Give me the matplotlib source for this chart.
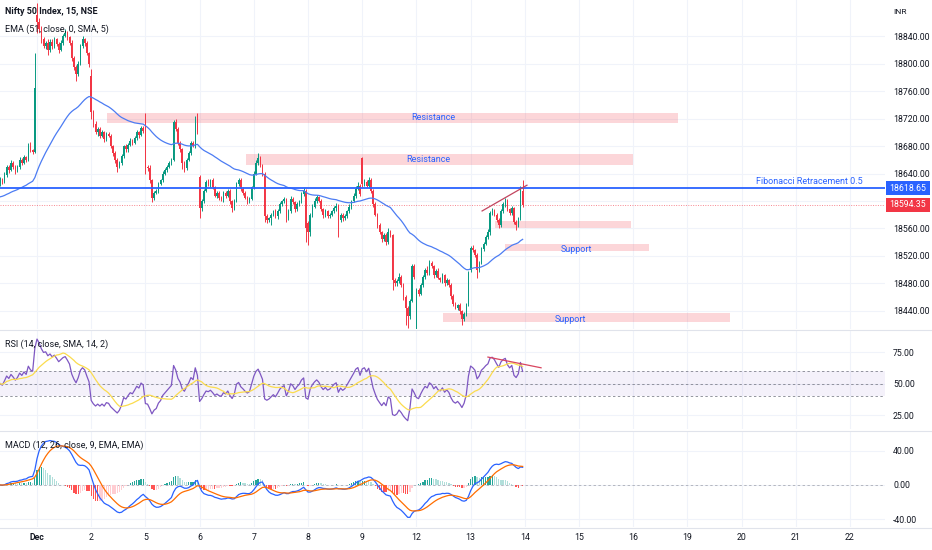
import numpy as np
import pandas as pd
import matplotlib
matplotlib.use("Agg")
import matplotlib.pyplot as plt
from matplotlib.patches import Rectangle
from matplotlib.transforms import blended_transform_factory
from matplotlib.lines import Line2D

plt.rcParams['font.family'] = ['Roboto', 'DejaVu Sans']

# ---------------- data: NIFTY 50, 15 min candles (bar 0 = first bar of 1 Dec) ----------------
nov30_close = [18632, 18628, 18638, 18650, 18645, 18655, 18650, 18644, 18650, 18660,
               18656, 18664, 18660, 18680, 18674, 18672, 18765]
dec01_close = [18860, 18850, 18835, 18825, 18830, 18820, 18832, 18825, 18835, 18828,
               18820, 18830, 18840, 18845, 18838, 18830, 18808, 18795, 18785, 18800,
               18825, 18835, 18830, 18815, 18800]
dec02_close = [18730, 18712, 18700, 18705, 18695, 18700, 18690, 18698, 18695, 18680,
               18670, 18660, 18650, 18655, 18665, 18680, 18675, 18682, 18688, 18685,
               18692, 18700, 18696, 18706, 18702]
dec05_close = [18650, 18648, 18630, 18605, 18612, 18615, 18625, 18630, 18640, 18645,
               18650, 18655, 18660, 18715, 18705, 18685, 18675, 18655, 18648, 18660,
               18670, 18685, 18680, 18720, 18700]
dec06_close = [18590, 18600, 18615, 18628, 18625, 18630, 18620, 18608, 18612, 18605,
               18603, 18612, 18608, 18615, 18600, 18590, 18600, 18625, 18630, 18618,
               18612, 18605, 18600, 18603, 18620]
dec07_close = [18640, 18655, 18662, 18652, 18640, 18578, 18572, 18575, 18580, 18585,
               18578, 18586, 18595, 18600, 18603, 18575, 18585, 18603, 18598, 18588,
               18595, 18600, 18610, 18615, 18560]
dec08_close = [18555, 18580, 18592, 18600, 18606, 18600, 18588, 18580, 18585, 18578,
               18580, 18585, 18590, 18593, 18572, 18580, 18575, 18578, 18585, 18592,
               18600, 18608, 18618, 18622, 18610]
dec09_close = [18625, 18628, 18622, 18630, 18615, 18595, 18580, 18565, 18555, 18545,
               18550, 18540, 18555, 18550, 18485, 18480, 18483, 18490, 18478, 18460,
               18445, 18432, 18455, 18505, 18490]
dec12_close = [18470, 18465, 18478, 18490, 18500, 18495, 18510, 18505, 18492, 18498,
               18488, 18485, 18492, 18480, 18485, 18478, 18462, 18450, 18445, 18448,
               18440, 18428, 18435, 18450, 18495]
dec13_close = [18532, 18528, 18522, 18500, 18510, 18530, 18538, 18548, 18555, 18582,
               18585, 18580, 18572, 18565, 18585, 18595, 18600, 18588, 18582, 18590,
               18570, 18565, 18575, 18615, 18594.35]

# opening prints where a bar does not open at the previous close
gap_opens = {-17: 18626, 0: 18871, 25: 18782, 50: 18718, 75: 18635,
             125: 18568, 150: 18662, 175: 18415, 200: 18500}

# wick lengths above / below the body
up_wick = [3, 2, 4, 3, 2, 4, 3, 2, 3, 4, 2, 3, 2, 5, 6, 2, 50,
           17, 6, 5, 4, 3, 6, 3, 4, 3, 2, 3, 4, 3, 5, 3, 2, 4, 3, 3, 4, 3, 5, 2, 3, 2,
           10, 3, 4, 2, 3, 4, 2, 3, 2, 3, 2, 3, 2, 3, 4, 2, 3, 3, 4, 2, 3, 4, 2, 3, 3,
           10, 3, 4, 2, 3, 2, 3, 2, 4, 3, 2, 3, 2, 3, 5, 2, 3, 2, 3, 2, 3, 2, 3, 4, 8,
           3, 3, 2, 3, 4, 2, 3, 2, 3, 2, 3, 2, 3, 2, 3, 2, 3, 2, 4, 3, 2, 3, 2, 3, 2,
           3, 4, 8, 3, 2, 2, 3, 2, 3, 2, 3, 2, 3, 2, 3, 2, 3, 4, 3, 2, 3, 2, 3, 4, 3,
           3, 2, 3, 4, 3, 2, 3, 2, 3, 2, 3, 2, 3, 4, 2, 3, 2, 3, 2, 3, 2, 3, 4, 5, 3,
           2, 4, 3, 5, 3, 2, 3, 2, 3, 2, 4, 3, 5, 3, 2, 3, 4, 5, 3, 2, 3, 2, 3, 4, 3,
           3, 4, 3, 2, 3, 5, 4, 3, 2, 3, 4, 2, 3, 2, 3, 2, 3, 2, 3, 2, 3, 2, 3, 2, 3,
           3, 4, 2, 3, 2, 3, 2, 3, 4, 3, 5, 3, 2, 3, 4, 3, 4, 3, 2, 3, 2, 3, 2, 7, 16]
dn_wick = [4, 3, 2, 3, 4, 2, 3, 5, 2, 3, 4, 2, 3, 2, 3, 4, 2,
           15, 4, 5, 3, 4, 8, 3, 4, 2, 3, 5, 2, 3, 2, 4, 3, 5, 4, 10, 3, 2, 3, 4, 3, 5,
           10, 4, 3, 5, 3, 2, 4, 3, 2, 3, 4, 5, 8, 2, 3, 2, 4, 3, 2, 3, 2, 3, 4, 2, 3,
           10, 5, 4, 6, 3, 2, 3, 2, 3, 2, 3, 2, 3, 2, 3, 4, 3, 8, 6, 3, 2, 3, 2, 3, 3,
           15, 4, 3, 2, 3, 4, 3, 2, 3, 4, 3, 5, 3, 2, 4, 6, 3, 2, 3, 4, 3, 2, 4, 3, 2,
           3, 2, 3, 2, 3, 8, 4, 3, 10, 2, 3, 4, 3, 2, 3, 6, 3, 2, 3, 4, 3, 2, 3, 2, 20,
           19, 6, 3, 2, 3, 2, 3, 4, 3, 2, 3, 2, 3, 4, 24, 3, 4, 2, 3, 2, 3, 2, 3, 2, 3,
           5, 3, 2, 3, 4, 3, 2, 4, 3, 5, 3, 4, 2, 3, 15, 4, 3, 2, 3, 4, 25, 17, 3, 2, 3,
           5, 3, 2, 3, 4, 3, 2, 3, 4, 3, 2, 3, 4, 3, 2, 3, 4, 3, 2, 3, 4, 8, 3, 2, 3,
           3, 2, 3, 12, 3, 2, 3, 2, 3, 4, 3, 2, 3, 4, 3, 2, 3, 2, 3, 2, 3, 7, 3, 2, 3]

first_bar = -17
bars_per_day = 25
day_labels = ["Dec", "2", "5", "6", "7", "8", "9", "12", "13", "14",
              "15", "16", "19", "20", "21", "22"]
ema_start = 18605          # EMA value at the left edge of the chart
rsi_start_move = 6.0       # average move carried in from earlier history

fib_level = 18618.65
last_price = 18594.35
price_ticks = [18440, 18480, 18520, 18560, 18600, 18640, 18680, 18720, 18760, 18800, 18840]

# zones: (first bar, last bar, low, high)
zones = [(32.3, 295.7, 18714, 18728),
         (96.4, 274.9, 18652, 18668),
         (211.3, 274.0, 18561, 18571),
         (215.9, 282.3, 18527, 18537),
         (187.3, 319.6, 18424, 18437)]
zone_labels = [("Resistance", 182.7, 18721), ("Resistance", 180.4, 18660),
               ("Support", 249.0, 18529), ("Support", 245.9, 18427)]
price_trend = ([205.3, 226.0], [18585.5, 18623.0])
rsi_trend = ([208.0, 232.5], [71.0, 62.5])

# ---------------- build series ----------------
closes = np.array(nov30_close + dec01_close + dec02_close + dec05_close + dec06_close +
                  dec07_close + dec08_close + dec09_close + dec12_close + dec13_close, float)
n = len(closes)
x = np.arange(first_bar, first_bar + n)
opens = np.r_[closes[0], closes[:-1]]
for b, o in gap_opens.items():
    opens[b - first_bar] = o
highs = np.maximum(opens, closes) + np.array(up_wick)
lows = np.minimum(opens, closes) - np.array(dn_wick)

s = pd.Series(closes)
ema51 = pd.Series(np.r_[ema_start, closes]).ewm(span=51, adjust=False).mean().values[1:]

delta = np.diff(closes, prepend=closes[0])
gain = pd.Series(np.r_[rsi_start_move, np.clip(delta, 0, None)]).ewm(alpha=1 / 14, adjust=False).mean().values[1:]
loss = pd.Series(np.r_[rsi_start_move, np.clip(-delta, 0, None)]).ewm(alpha=1 / 14, adjust=False).mean().values[1:]
rsi = 100 - 100 / (1 + gain / loss)
rsi_ma = pd.Series(rsi).rolling(14, min_periods=1).mean().values

macd = (s.ewm(span=12, adjust=False).mean() - s.ewm(span=26, adjust=False).mean()).values
signal = pd.Series(macd).ewm(span=9, adjust=False).mean().values
hist = macd - signal
prev_hist = np.r_[hist[0], hist[:-1]]
hist_col = np.where(hist >= 0,
                    np.where(hist >= prev_hist, '#26a69a', '#b2dfdb'),
                    np.where(hist < prev_hist, '#ff5252', '#ffcdd2'))

# ---------------- figure ----------------
W, H = 932, 550
px_bar = 54.2 / bars_per_day
bar0_px = 37
plot_right = 885
fig = plt.figure(figsize=(W / 100, H / 100), dpi=100)


def panel(top, bottom):
    a = fig.add_axes([0, 1 - bottom / H, plot_right / W, (bottom - top) / H])
    a.set_xlim(-bar0_px / px_bar, (plot_right - bar0_px) / px_bar)
    for sp in a.spines.values():
        sp.set_visible(False)
    a.yaxis.tick_right()
    a.tick_params(axis='y', length=0, pad=5.8, labelsize=6.3, labelcolor='#131722')
    a.tick_params(axis='x', length=0)
    a.set_xticks(np.arange(len(day_labels)) * bars_per_day)
    a.grid(True, color='#f0f3fa', lw=0.8)
    a.set_axisbelow(True)
    return a


ax_p = panel(0, 329)
ax_r = panel(330, 429)
ax_m = panel(431, 527)

GREEN, RED, BLUE = '#089981', '#f23645', '#2962ff'

# price panel
ax_p.set_ylim(18413.8, 18892.4)
ax_p.set_yticks(price_ticks)
ax_p.set_yticklabels(['' if t == 18600 else f'{t:.2f}' for t in price_ticks])
ax_p.set_xticklabels([])

for x0, x1, lo, hi in zones:
    ax_p.add_patch(Rectangle((x0, lo), x1 - x0, hi - lo, fc=RED, alpha=0.2, ec='none', zorder=1))
for txt, bx, py in zone_labels:
    ax_p.text(bx, py, txt, color=BLUE, fontsize=6.5, ha='center', va='center', zorder=6)

col = np.where(closes >= opens, GREEN, RED)
ax_p.vlines(x, lows, highs, colors=col, lw=0.7, zorder=3)
body = np.maximum(np.abs(closes - opens), 1.0)
ax_p.bar(x, body, bottom=np.minimum(opens, closes), width=0.7, color=col, lw=0, zorder=3)

ax_p.plot(x, ema51, color='#4c7cf3', lw=0.9, zorder=4)
ax_p.axhline(fib_level, color=BLUE, lw=1.3, zorder=4)
ax_p.axhline(last_price, color=RED, lw=0.7, ls=(0, (1, 1.5)), alpha=0.6, zorder=2)
ax_p.plot(*price_trend, color='#c2455f', lw=0.9, zorder=5)
ax_p.text(381, fib_level + 3, 'Fibonacci Retracement 0.5', color=BLUE, fontsize=6.5,
          ha='right', va='bottom', zorder=6)

tr = blended_transform_factory(fig.transFigure, ax_p.transData)
for val, fc in [(fib_level, BLUE), (last_price, RED)]:
    ax_p.add_patch(Rectangle((886 / W, val - 10.2), 44 / W, 20.4, transform=tr,
                             fc=fc, ec='none', clip_on=False, zorder=7))
    ax_p.text(908 / W, val, f'{val:.2f}', transform=tr, color='white', fontsize=6.3,
              ha='center', va='center', clip_on=False, zorder=8)

# RSI panel
ax_r.set_ylim(13.9, 92.5)
ax_r.set_yticks([25, 50, 75])
ax_r.set_yticklabels(['25.00', '50.00', '75.00'])
ax_r.set_xticklabels([])
ax_r.axhspan(40, 60, color='#7e57c2', alpha=0.08, lw=0)
for lvl in (40, 50, 60):
    ax_r.axhline(lvl, color='#787b86', lw=0.7, ls=(0, (2.5, 2.5)), alpha=0.8)
ax_r.plot(x, rsi, color='#7e57c2', lw=0.9, zorder=3)
ax_r.plot(x, rsi_ma, color='#fbdc4e', lw=0.9, zorder=4)
ax_r.plot(*rsi_trend, color='#d9455f', lw=0.9, zorder=5)

# MACD panel
ax_m.set_ylim(-49.4, 63.5)
ax_m.set_yticks([-40, 0, 40])
ax_m.set_yticklabels(['-40.00', '0.00', '40.00'])
ax_m.axhline(0, color='#787b86', lw=0.7, ls=(0, (2.5, 2.5)), alpha=0.5)
ax_m.bar(x, hist, width=0.6, color=hist_col, lw=0, zorder=2)
ax_m.plot(x, macd, color=BLUE, lw=0.9, zorder=3)
ax_m.plot(x, signal, color='#ff6d00', lw=0.9, zorder=4)
ax_m.set_xticklabels(day_labels)
ax_m.tick_params(axis='x', pad=4, labelsize=6.3, labelcolor='#131722')
ax_m.get_xticklabels()[0].set_fontweight('bold')

# separators and titles
for yy in (329.5, 430.5, 527.5):
    fig.add_artist(Line2D([0, 1], [1 - yy / H] * 2, color='#e0e3eb', lw=0.8))
fig.text(5 / W, 1 - 12 / H, 'Nifty 50 Index, 15, NSE', fontsize=6.5, fontweight='bold',
         color='#131722', va='center')
fig.text(5 / W, 1 - 29 / H, 'EMA (51, close, 0, SMA, 5)', fontsize=6.5, color='#131722', va='center')
fig.text(5 / W, 1 - 344 / H, 'RSI (14, close, SMA, 14, 2)', fontsize=6.5, color='#131722', va='center')
fig.text(5 / W, 1 - 445 / H, 'MACD (12, 26, close, 9, EMA, EMA)', fontsize=6.5, color='#131722', va='center')
fig.text(893 / W, 1 - 12 / H, 'INR', fontsize=6, color='#131722', va='center')

fig.savefig('out.png', dpi=100, facecolor='white')
